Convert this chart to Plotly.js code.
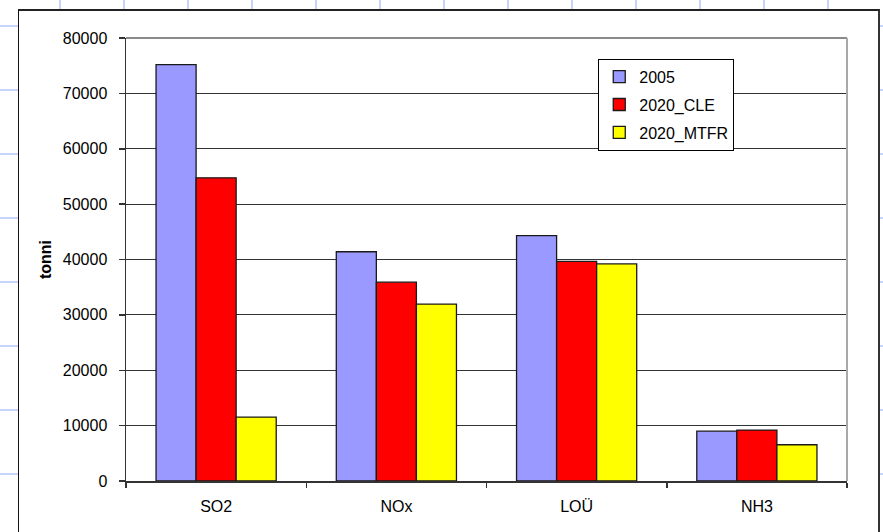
<!DOCTYPE html>
<html>
<head>
<meta charset="utf-8">
<script src="https://cdn.plot.ly/plotly-3.0.1.min.js"></script>
<style>
  html, body { margin:0; padding:0; width:883px; height:532px; overflow:hidden; background:#fff; }
  body {
    background-image:
      linear-gradient(to right, #c6d4f8 2px, transparent 2px),
      linear-gradient(to bottom, #c6d4f8 2px, transparent 2px);
    background-size: 64px 64px;
    background-position: 59px 25px;
  }
  #wrap { position:absolute; left:18px; top:9px; width:859px; height:560px;
          background:#fff; border-left:1px solid #111; border-top:2px solid #222; border-right:2px solid #333; }
  #chart { width:859px; height:521px; }
</style>
</head>
<body>
<div id="wrap"><div id="chart"></div></div>
<script>
const categories = ["SO2", "NOx", "LOÜ", "NH3"];
const seriesNames = ["2005", "2020_CLE", "2020_MTFR"];
const values2005 = [75200, 41400, 44300, 9000];
const values2020CLE = [54750, 35900, 39650, 9200];
const values2020MTFR = [11550, 31950, 39200, 6550];
const yTicks = [0, 10000, 20000, 30000, 40000, 50000, 60000, 70000, 80000];
const colors = ["#9999FF", "#FF0000", "#FFFF00"];

const FONT = "Liberation Sans, Arial, sans-serif";
const allValues = [values2005, values2020CLE, values2020MTFR];
const traces = allValues.map((v, i) => ({
  type: "bar",
  name: seriesNames[i],
  x: categories,
  y: v,
  legendgroup: "g" + i,
  marker: { color: colors[i], line: { color: "#1a1a1a", width: 1.3 } },
  hoverinfo: "x+y+name"
}));

const layout = {
  width: 859, height: 521,
  margin: { l: 107, r: 31, t: 27, b: 51 },
  paper_bgcolor: "rgba(0,0,0,0)",
  plot_bgcolor: "#fff",
  barmode: "group",
  bargap: 1/3,
  bargroupgap: 0,
  font: { family: FONT, size: 16, color: "#000" },
  showlegend: true,
  legend: {
    x: 0.655, y: 0.953, xanchor: "left", yanchor: "top",
    bgcolor: "#fff", bordercolor: "#000", borderwidth: 1,
    font: { family: FONT, size: 16, color: "#000" },
    traceorder: "grouped", tracegroupgap: 4,
    itemwidth: 30
  },
  xaxis: {
    type: "category",
    showline: true, linecolor: "#333", linewidth: 1.5,
    ticks: "outside", tickson: "boundaries", ticklen: 5, tickcolor: "#333", tickwidth: 1.5,
    ticklabelstandoff: 10,
    showgrid: false, zeroline: false,
    tickfont: { family: FONT, size: 16, color: "#000" },
    fixedrange: true
  },
  yaxis: {
    range: [0, 80000],
    tickmode: "array", tickvals: yTicks, ticktext: yTicks.map(String),
    showline: true, linecolor: "#333", linewidth: 1.5,
    ticks: "outside", ticklen: 6, tickcolor: "#333", tickwidth: 1.5,
    ticklabelstandoff: 8,
    showgrid: true, gridcolor: "#333", gridwidth: 1,
    zeroline: false,
    tickfont: { family: FONT, size: 16, color: "#000" },
    title: { text: "<b>tonni</b>", font: { family: FONT, size: 16, color: "#000" }, standoff: 7 },
    fixedrange: true
  },
  shapes: [
    { type: "line", xref: "paper", yref: "paper", x0: 0, x1: 1, y0: 1, y1: 1, line: { color: "#8a8a8a", width: 2 }, layer: "above" },
    { type: "line", xref: "paper", yref: "paper", x0: 1, x1: 1, y0: 0, y1: 1, line: { color: "#a8a8a8", width: 2 }, layer: "above" }
  ]
};

Plotly.newPlot("chart", traces, layout, { displayModeBar: false, staticPlot: true });
</script>
</body>
</html>
